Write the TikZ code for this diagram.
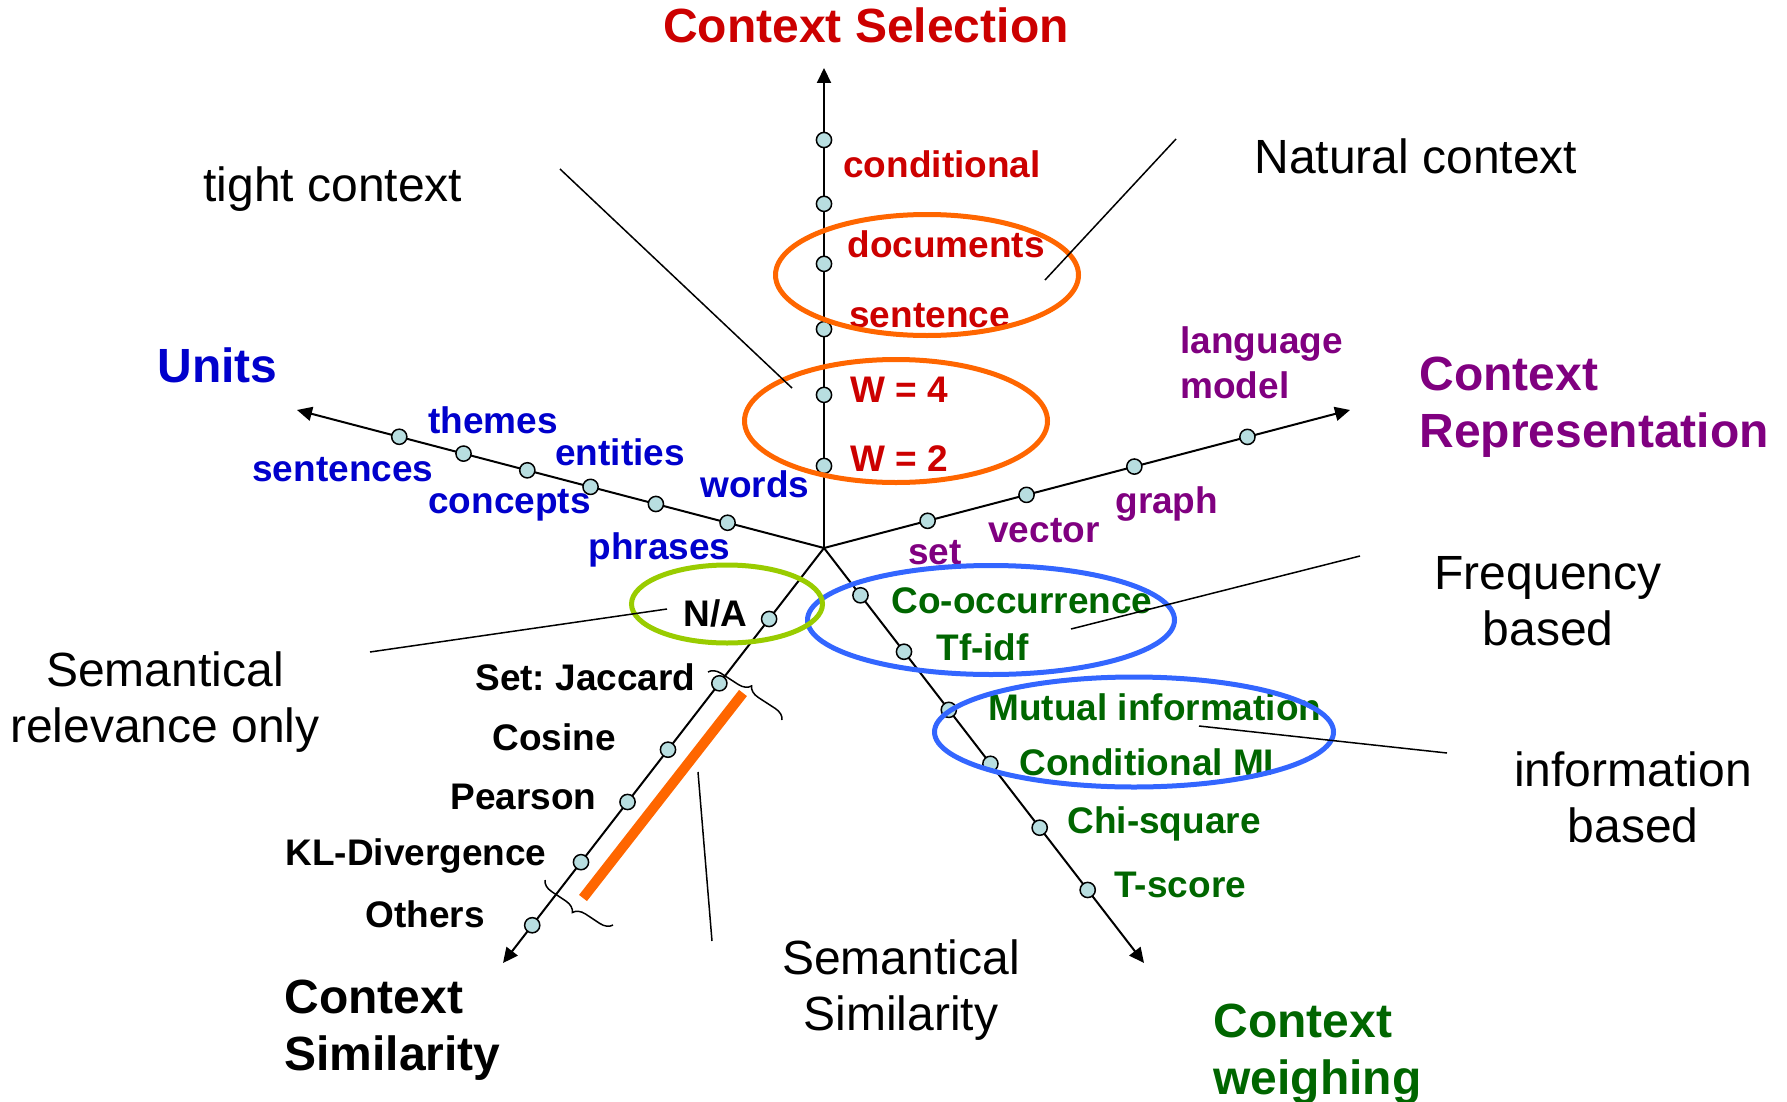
\documentclass[tikz,border=0pt]{standalone}
\usepackage{fontspec}
\setmainfont{Liberation Sans}
\frenchspacing
\usetikzlibrary{arrows.meta,calc,shapes.geometric,decorations.pathreplacing}

\definecolor{selred}{RGB}{204,0,0}
\definecolor{unitblue}{RGB}{0,0,204}
\definecolor{reppurple}{RGB}{128,0,128}
\definecolor{weighgreen}{RGB}{0,102,0}
\definecolor{dotfill}{RGB}{184,222,224}
\definecolor{ringorange}{RGB}{255,102,0}
\definecolor{ringlime}{RGB}{153,204,0}
\definecolor{ringblue}{RGB}{51,102,255}

\begin{document}
\begin{tikzpicture}[x=0.5pt,y=-0.5pt,
  axis/.style={line width=1pt,-{Triangle[length=7.5pt,width=7pt]}},
  dot/.style={circle,draw=black,line width=0.75pt,fill=dotfill,inner sep=0pt,minimum size=7.6pt},
  item/.style={font=\fontsize{18.5}{22.5}\selectfont\bfseries,inner sep=0pt,anchor=base west,align=left},
  head/.style={font=\fontsize{24}{28.5}\selectfont\bfseries,inner sep=0pt,align=left},
  note/.style={font=\fontsize{24}{28}\selectfont,inner sep=0pt,align=center,anchor=base},
  leader/.style={line width=0.75pt},
  ring/.style={ellipse,draw,line width=2.5pt,inner sep=0pt},
  simbrace/.style={decorate,decoration={brace,amplitude=6pt},line width=0.75pt},
]
\useasboundingbox (0,0) rectangle (1787,1102);

% hub and axis ends
\coordinate (c) at (824,548);
\coordinate (tsel) at (824,68);
\coordinate (tuni) at (297,410);
\coordinate (trep) at (1350,410);
\coordinate (twei) at (1144,963);
\coordinate (tsim) at (503,963);

% the five axes
\draw[axis] (c) -- (tsel);
\draw[axis] (c) -- (tuni);
\draw[axis] (c) -- (trep);
\draw[axis] (c) -- (twei);
\draw[axis] (c) -- (tsim);

% markers on the axes
\node[dot] (s1) at ($(c)!0.850!(tsel)$) {};
\node[dot] (s2) at ($(c)!0.717!(tsel)$) {};
\node[dot] (s3) at ($(c)!0.592!(tsel)$) {};
\node[dot] (s4) at ($(c)!0.456!(tsel)$) {};
\node[dot] (s5) at ($(c)!0.319!(tsel)$) {};
\node[dot] (s6) at ($(c)!0.171!(tsel)$) {};

\node[dot] (u1) at ($(c)!0.806!(tuni)$) {};
\node[dot] (u2) at ($(c)!0.684!(tuni)$) {};
\node[dot] (u3) at ($(c)!0.563!(tuni)$) {};
\node[dot] (u4) at ($(c)!0.443!(tuni)$) {};
\node[dot] (u5) at ($(c)!0.319!(tuni)$) {};
\node[dot] (u6) at ($(c)!0.183!(tuni)$) {};

\node[dot] (r1) at ($(c)!0.197!(trep)$) {};
\node[dot] (r2) at ($(c)!0.385!(trep)$) {};
\node[dot] (r3) at ($(c)!0.590!(trep)$) {};
\node[dot] (r4) at ($(c)!0.805!(trep)$) {};

\node[dot] (w1) at ($(c)!0.114!(twei)$) {};
\node[dot] (w2) at ($(c)!0.250!(twei)$) {};
\node[dot] (w3) at ($(c)!0.390!(twei)$) {};
\node[dot] (w4) at ($(c)!0.520!(twei)$) {};
\node[dot] (w5) at ($(c)!0.674!(twei)$) {};
\node[dot] (w6) at ($(c)!0.824!(twei)$) {};

\node[dot] (m1) at ($(c)!0.171!(tsim)$) {};
\node[dot] (m2) at ($(c)!0.326!(tsim)$) {};
\node[dot] (m3) at ($(c)!0.486!(tsim)$) {};
\node[dot] (m4) at ($(c)!0.612!(tsim)$) {};
\node[dot] (m5) at ($(c)!0.757!(tsim)$) {};
\node[dot] (m6) at ($(c)!0.909!(tsim)$) {};

% similarity range: bar and braces
\coordinate (barA) at (743,693);
\coordinate (barB) at (583,898);
\draw[ringorange,line width=5pt] (barA) -- (barB);
\coordinate (brA1) at (708,672);
\coordinate (brA2) at (782,720);
\coordinate (brB1) at (613,925);
\coordinate (brB2) at (545,880);
\draw[simbrace] (brA1) -- (brA2);
\draw[simbrace] (brB1) -- (brB2);

% axis titles (multi-line nodes sit on the baseline of their last line)
\node[head,text=selred,anchor=base] (hsel) at (866,43) {Context Selection};
\node[head,text=unitblue,anchor=base west] (huni) at (157,382) {Units};
\node[head,text=reppurple,anchor=base west] (hrep) at (1419,447) {Context\\Representation};
\node[head,anchor=base west] (hsim) at (284,1070) {Context\\Similarity};
\node[head,text=weighgreen,anchor=base west] (hwei) at (1213,1094) {Context\\weighing};

% context selection values
\node[item,text=selred] (lcond) at (843,177) {conditional};
\node[item,text=selred] (ldoc) at (847,257) {documents};
\node[item,text=selred] (lsent) at (849,327) {sentence};
\node[item,text=selred] (lw4) at (850,402) {W = 4};
\node[item,text=selred] (lw2) at (850,471) {W = 2};

% unit values
\node[item,text=unitblue] (lthem) at (428,433) {themes};
\node[item,text=unitblue] (lsents) at (252,481) {sentences};
\node[item,text=unitblue] (lent) at (555,465) {entities};
\node[item,text=unitblue] (lconc) at (428,513) {concepts};
\node[item,text=unitblue] (lword) at (700,497) {words};
\node[item,text=unitblue] (lphr) at (588,559) {phrases};

% representation values
\node[item,text=reppurple] (llm) at (1180,398) {language\\model};
\node[item,text=reppurple] (lgraph) at (1115,513) {graph};
\node[item,text=reppurple] (lvec) at (988,542) {vector};
\node[item,text=reppurple] (lset) at (908,564) {set};

% weighing values
\node[item,text=weighgreen] (lco) at (891,613) {Co-occurrence};
\node[item,text=weighgreen] (ltf) at (936,660) {Tf-idf};
\node[item,text=weighgreen] (lmi) at (988,720) {Mutual information};
\node[item,text=weighgreen] (lcmi) at (1019,775) {Conditional MI};
\node[item,text=weighgreen] (lchi) at (1067,833) {Chi-square};
\node[item,text=weighgreen] (lts) at (1114,897) {T-score};

% similarity values
\node[item] (lna) at (683,626) {N/A};
\node[item] (ljac) at (475,690) {Set: Jaccard};
\node[item] (lcos) at (492,750) {Cosine};
\node[item] (lpear) at (450,809) {Pearson};
\node[item] (lkl) at (285,865) {KL-Divergence};
\node[item] (loth) at (365,927) {Others};

% explanatory notes
\node[note,anchor=base west] (ntight) at (203,201) {tight context};
\node[note,anchor=base west] (nnat) at (1254,173) {Natural context};
\node[note] (nfreq) at (1548,645) {Frequency\\based};
\node[note] (nrel) at (165,742) {Semantical\\relevance only};
\node[note] (ninfo) at (1633,842) {information\\based};
\node[note] (nsem) at (901,1030) {Semantical\\Similarity};

% groupings
\node[ring,draw=ringorange,minimum width=151.5pt,minimum height=60.5pt] (gdoc) at (927,275) {};
\node[ring,draw=ringorange,minimum width=151.5pt,minimum height=61.5pt] (gwin) at (896,421) {};
\node[ring,draw=ringblue,minimum width=183.5pt,minimum height=54.5pt] (gfreq) at (991,620) {};
\node[ring,draw=ringblue,minimum width=199.5pt,minimum height=55pt] (ginfo) at (1134,732) {};
\node[ring,draw=ringlime,minimum width=95.5pt,minimum height=39pt] (gna) at (727,604) {};

% leader lines from the notes into the groupings
\coordinate (kt1) at (560,169);  \coordinate (kt2) at (792,388);
\coordinate (kn1) at (1176,139); \coordinate (kn2) at (1045,280);
\coordinate (kf1) at (1360,556); \coordinate (kf2) at (1071,629);
\coordinate (ki1) at (1447,753); \coordinate (ki2) at (1199,726);
\coordinate (kr1) at (370,652);  \coordinate (kr2) at (667,609);
\coordinate (ks1) at (712,941);  \coordinate (ks2) at (698,772);
\draw[leader] (kt1) -- (kt2);
\draw[leader] (kn1) -- (kn2);
\draw[leader] (kf1) -- (kf2);
\draw[leader] (ki1) -- (ki2);
\draw[leader] (kr1) -- (kr2);
\draw[leader] (ks1) -- (ks2);
\end{tikzpicture}
\end{document}
